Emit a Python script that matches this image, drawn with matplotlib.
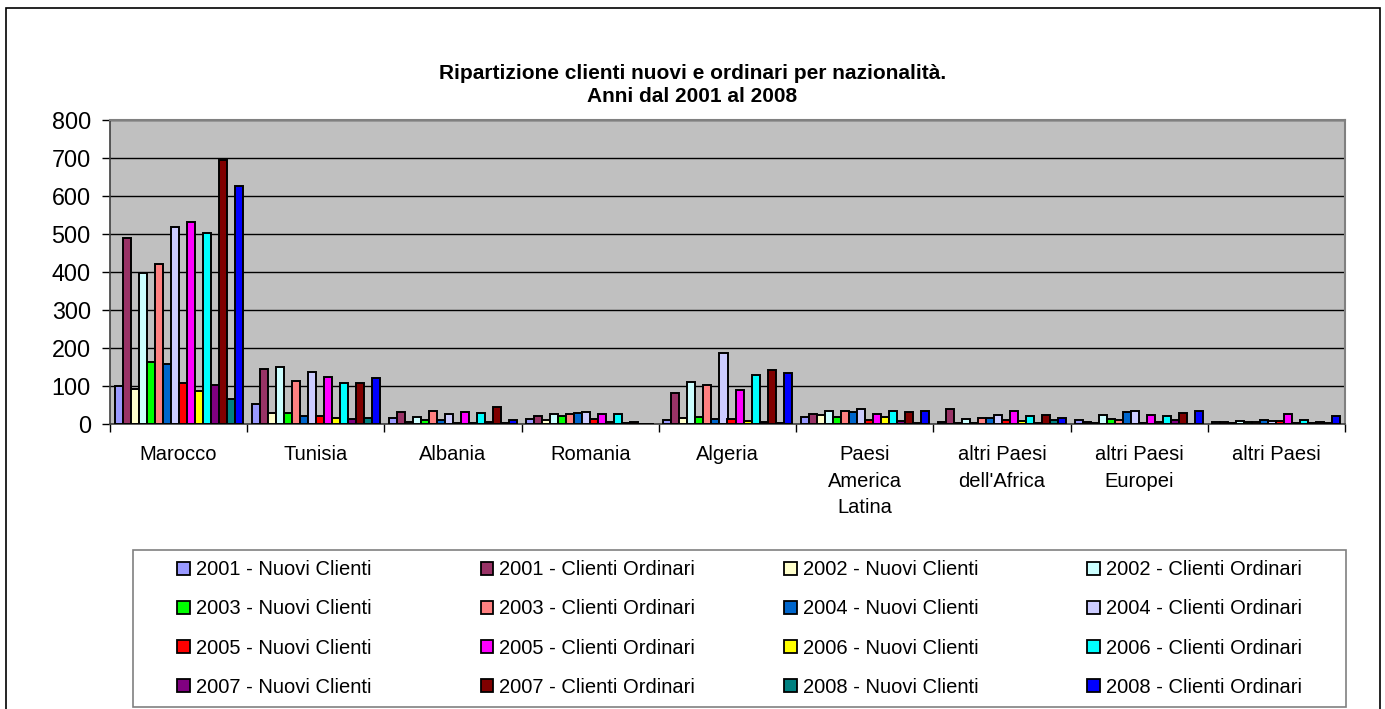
import numpy as np
import matplotlib.pyplot as plt
from matplotlib.patches import Rectangle, Patch

plt.rcParams['font.family'] = ['Liberation Sans', 'DejaVu Sans']

# Categories (nationalities)
categories = ['Marocco', 'Tunisia', 'Albania', 'Romania', 'Algeria',
              'Paesi\nAmerica\nLatina', "altri Paesi\ndell'Africa",
              'altri Paesi\nEuropei', 'altri Paesi']
years = [2001, 2002, 2003, 2004, 2005, 2006, 2007, 2008]

# Nuovi clienti, one row per year, one value per category
nuovi = [
    [101, 53, 18, 15, 12, 20, 6, 11, 7],
    [93, 29, 6, 12, 16, 25, 3, 3, 4],
    [165, 31, 12, 23, 19, 19, 4, 14, 6],
    [160, 23, 11, 29, 14, 34, 17, 32, 13],
    [110, 22, 5, 14, 14, 12, 11, 4, 10],
    [89, 16, 4, 7, 9, 20, 10, 7, 5],
    [104, 14, 6, 4, 7, 10, 4, 11, 5],
    [68, 16, 4, 0, 3, 5, 11, 1, 4],
]

# Clienti ordinari, one row per year, one value per category
ordinari = [
    [491, 147, 32, 22, 82, 27, 42, 6, 6],
    [397, 152, 21, 27, 111, 36, 15, 26, 8],
    [422, 115, 36, 27, 104, 35, 16, 13, 6],
    [518, 138, 27, 33, 188, 42, 25, 35, 10],
    [531, 125, 33, 27, 91, 27, 36, 26, 28],
    [502, 110, 30, 27, 131, 35, 23, 22, 11],
    [696, 108, 45, 6, 144, 32, 26, 31, 7],
    [627, 123, 11, 2, 134, 35, 16, 35, 22],
]

nuovi_colors = ['#9999FF', '#FFFFCC', '#00FF00', '#0066CC',
                '#FF0000', '#FFFF00', '#800080', '#008080']
ordinari_colors = ['#993366', '#CCFFFF', '#FF8080', '#CCCCFF',
                   '#FF00FF', '#00FFFF', '#800000', '#0000FF']

W, H = 1385, 709
fig = plt.figure(figsize=(W / 100, H / 100), dpi=100)
ax = fig.add_axes([110 / W, 1 - 424.5 / H, 1235 / W, 304.5 / H])
ax.set_facecolor('#C0C0C0')

x = np.arange(len(categories))
bw = 0.0583
handles, labels = [], []
for k, year in enumerate(years):
    for s, (vals, col, name) in enumerate([(nuovi[k], nuovi_colors[k], 'Nuovi Clienti'),
                                           (ordinari[k], ordinari_colors[k], 'Clienti Ordinari')]):
        j = 2 * k + s
        ax.bar(x + (j - 7.5) * bw, vals, width=bw, color=col,
               edgecolor='black', linewidth=1.4, zorder=3)
        handles.append(Patch(facecolor=col, edgecolor='black', linewidth=1.3))
        labels.append(f'{year} - {name}')

ax.set_xlim(-0.5, len(categories) - 0.5)
ax.set_ylim(0, 800)
ax.set_yticks(range(0, 801, 100))
ax.yaxis.grid(True, color='black', linewidth=1, zorder=1)
ax.set_axisbelow(True)

ax.set_xticks(x)
ax.set_xticklabels(categories, fontsize=14.5, linespacing=1.5)
ax.set_xticks(np.arange(-0.5, len(categories)), minor=True)
ax.tick_params(axis='x', which='major', length=0, pad=15)
ax.tick_params(axis='x', which='minor', length=5.8, width=1, direction='out')
ax.tick_params(axis='y', labelsize=16.8, length=5.8, width=1, pad=8, direction='out')

for side in ['top', 'right']:
    ax.spines[side].set_color('#808080')
    ax.spines[side].set_linewidth(1.5)
for side in ['left', 'bottom']:
    ax.spines[side].set_color('#404040')
    ax.spines[side].set_linewidth(1.2)

fig.text(0.5, 1 - 85 / H,
         'Ripartizione clienti nuovi e ordinari per nazionalità.\nAnni dal 2001 al 2008',
         ha='center', va='center', fontsize=15, fontweight='bold', linespacing=1.3)

# Legend laid out row by row in four evenly spaced columns
col_x = [177, 480.5, 784, 1087]
for c in range(4):
    idx = [c, c + 4, c + 8, c + 12]
    fig.legend([handles[i] for i in idx], [labels[i] for i in idx],
               loc='center left', bbox_to_anchor=(col_x[c] / W, 1 - 628.5 / H),
               frameon=False, fontsize=14.5, handlelength=0.63, handleheight=0.63,
               handletextpad=0.3, labelspacing=1.0, borderpad=0, borderaxespad=0)

fig.add_artist(Rectangle((133 / W, 1 - 707 / H), (1346 - 133) / W, (707 - 550) / H,
                         transform=fig.transFigure, fill=False,
                         edgecolor='#808080', linewidth=1.2))
fig.add_artist(Rectangle((6 / W, -0.02), (1380 - 6) / W, 0.02 + 1 - 8 / H,
                         transform=fig.transFigure, fill=False,
                         edgecolor='black', linewidth=1.2))

fig.savefig('out.png', dpi=100)
